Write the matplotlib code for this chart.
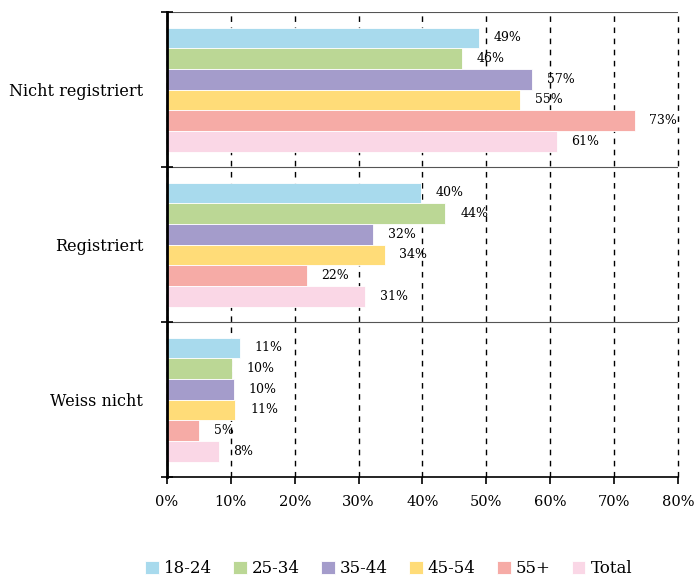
import numpy as np
import matplotlib.pyplot as plt

plt.rcParams['font.family'] = ['DejaVu Serif']

categories = ['Nicht registriert', 'Registriert', 'Weiss nicht']
groups = ['18-24', '25-34', '35-44', '45-54', '55+', 'Total']
values = {
    '18-24': [48.8, 39.8, 11.4],
    '25-34': [46.2, 43.6, 10.2],
    '35-44': [57.2, 32.3, 10.5],
    '45-54': [55.3, 34.1, 10.7],
    '55+':   [73.2, 21.9, 5.0],
    'Total': [61.0, 31.0, 8.1],
}
colors = ['#A8DAED', '#BBD795', '#A49CCB', '#FFDC78', '#F6ABA6', '#FAD7E6']

fig = plt.figure(figsize=(6.94, 5.78), dpi=100)
ax = fig.add_axes([0.2406, 0.1747, 0.7363, 0.8045])

h = 0.8 / len(groups)
y = np.arange(len(categories))
for j, g in enumerate(groups):
    pos = y + (j - 2.5) * h
    ax.barh(pos, values[g], height=h, color=colors[j], edgecolor='white',
            linewidth=0.6, label=g, zorder=2)
    for p, v in zip(pos, values[g]):
        ax.text(v + 2.3, p, '%d%%' % round(v), va='center', ha='left',
                fontsize=9, zorder=4)

ax.set_xlim(0, 80)
ax.set_ylim(2.5, -0.5)
ax.set_xticks(np.arange(0, 81, 10))
ax.set_xticklabels(['%d%%' % t for t in range(0, 81, 10)], fontsize=10.5)
ax.set_yticks(y)
ax.set_yticklabels(categories, fontsize=11.5)
ax.set_yticks([-0.5, 0.5, 1.5, 2.5], minor=True)
ax.tick_params(axis='y', which='major', length=0, pad=17)
ax.tick_params(axis='y', which='minor', direction='inout', length=9, width=1.2)
ax.tick_params(axis='x', direction='out', length=5, width=1.2, pad=8)

ax.grid(axis='x', which='major', linestyle=(0, (4, 4)), color='black',
        linewidth=1, zorder=1)
ax.grid(axis='y', which='minor', linestyle='-', color='#555555',
        linewidth=0.8, zorder=1)
for line in ax.get_xgridlines():
    line.set_clip_on(False)

for s in ['top', 'right']:
    ax.spines[s].set_visible(False)
ax.spines['left'].set_linewidth(2)
ax.spines['bottom'].set_linewidth(1.2)
ax.spines['left'].set_zorder(5)

fig.legend(loc='lower center', ncol=6, frameon=False, fontsize=12,
           handlelength=0.8, handleheight=0.8, handletextpad=0.3,
           columnspacing=1.3, bbox_to_anchor=(0.56, -0.025))

fig.savefig('out.png', dpi=100)
